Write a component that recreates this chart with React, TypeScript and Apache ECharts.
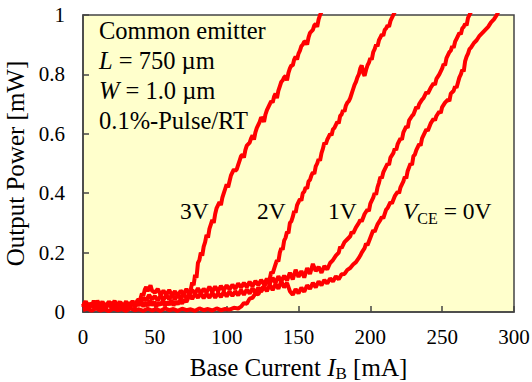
import React, { useEffect, useRef } from "react";
import * as echarts from "echarts";

const xTicks = [0, 50, 100, 150, 200, 250, 300];
const yTickLabels = ["0", "0.2", "0.4", "0.6", "0.8", "1"];

const curve3V: [number, number][] = [
  [0, 0.02], [1.5, 0.035], [3, 0.012], [4.5, 0.03], [6, 0.018], [7.5, 0.038], [9, 0.015], [10.5, 0.03], [12, 0.02], [13.5, 0.036],
  [15, 0.012], [16.5, 0.028], [18, 0.02], [19.5, 0.034], [21, 0.014], [22.5, 0.03], [24, 0.018], [25.5, 0.036], [27, 0.016], [28.5, 0.028],
  [30, 0.012], [31.5, 0.032], [33, 0.02], [34.5, 0.038], [36, 0.016], [37.5, 0.03], [39, 0.022], [40.5, 0.036], [42, 0.018], [43.5, 0.032],
  [45, 0.02], [46.5, 0.04], [48, 0.022], [49.5, 0.034], [51, 0.018], [52.5, 0.03], [54, 0.024], [55.5, 0.038], [57, 0.02], [58.5, 0.034],
  [60, 0.024], [61.5, 0.04], [63, 0.022], [64.5, 0.036], [66, 0.026], [67.5, 0.04], [69, 0.028], [70.5, 0.042], [72, 0.034], [73.5, 0.05],
  [75, 0.075], [76, 0.1], [77, 0.09], [78, 0.125], [79, 0.115], [80, 0.165], [81, 0.175], [82, 0.2], [83, 0.19], [84, 0.22],
  [85, 0.235], [86, 0.26], [87, 0.25], [88, 0.28], [89, 0.295], [90, 0.31], [91, 0.3], [92, 0.33], [93, 0.35], [94, 0.36],
  [95, 0.37], [96, 0.36], [97, 0.385], [98, 0.4], [99, 0.415], [100, 0.43], [101, 0.42], [102, 0.44], [103, 0.46], [104, 0.47],
  [105, 0.48], [106, 0.475], [107, 0.48], [108, 0.495], [109, 0.51], [110, 0.525], [111, 0.53], [112, 0.52], [113, 0.545], [114, 0.56],
  [115, 0.565], [116, 0.57], [117, 0.585], [118, 0.595], [119, 0.58], [120, 0.605], [121, 0.62], [122, 0.63], [123, 0.64], [124, 0.655],
  [125, 0.65], [126, 0.64], [127, 0.665], [128, 0.68], [129, 0.69], [130, 0.7], [131, 0.71], [132, 0.705], [133, 0.725], [134, 0.735],
  [135, 0.72], [136, 0.745], [137, 0.76], [138, 0.775], [139, 0.78], [140, 0.79], [141, 0.795], [142, 0.78], [143, 0.805], [144, 0.82],
  [145, 0.83], [146, 0.83], [147, 0.85], [148, 0.86], [149, 0.85], [150, 0.87], [151, 0.88], [152, 0.895], [153, 0.9], [154, 0.91],
  [155, 0.91], [156, 0.9], [157, 0.925], [158, 0.94], [159, 0.945], [160, 0.95], [161, 0.965], [162, 0.97], [163, 0.96], [164, 0.985],
  [165, 1.0], [166, 1.01],
];

const curve2V: [number, number][] = [
  [0, 0.006], [3, 0.011], [6, 0.004], [9, 0.012], [12, 0.005], [15, 0.009], [18, 0.003], [21, 0.011], [24, 0.006], [27, 0.01],
  [30, 0.004], [33, 0.012], [36, 0.006], [39, 0.009], [42, 0.004], [45, 0.011], [48, 0.005], [51, 0.01], [54, 0.004], [57, 0.012],
  [60, 0.006], [63, 0.01], [66, 0.004], [69, 0.011], [72, 0.006], [75, 0.009], [78, 0.004], [81, 0.012], [84, 0.006], [87, 0.01],
  [90, 0.005], [93, 0.012], [96, 0.006], [99, 0.01], [102, 0.008], [105, 0.014], [108, 0.012], [110, 0.018], [112, 0.03], [114, 0.028],
  [116, 0.045], [118, 0.048], [120, 0.062], [122, 0.06], [124, 0.078], [126, 0.086], [128, 0.1], [130, 0.112], [131, 0.135], [132, 0.13],
  [134, 0.16], [135, 0.175], [136, 0.17], [137, 0.2], [138, 0.215], [139, 0.21], [140, 0.24], [141, 0.25], [142, 0.27], [143, 0.265],
  [144, 0.3], [145, 0.305], [146, 0.32], [147, 0.34], [148, 0.335], [149, 0.36], [150, 0.37], [151, 0.38], [152, 0.375], [153, 0.4],
  [154, 0.405], [155, 0.42], [156, 0.415], [157, 0.44], [158, 0.445], [159, 0.46], [160, 0.47], [161, 0.465], [162, 0.49], [163, 0.5],
  [164, 0.515], [165, 0.51], [166, 0.535], [167, 0.55], [168, 0.57], [169, 0.565], [170, 0.58], [171, 0.59], [172, 0.6], [173, 0.595],
  [174, 0.615], [175, 0.62], [176, 0.63], [177, 0.64], [178, 0.635], [179, 0.66], [180, 0.665], [181, 0.68], [182, 0.675], [183, 0.695],
  [184, 0.705], [185, 0.71], [186, 0.72], [187, 0.735], [188, 0.75], [189, 0.765], [190, 0.775], [191, 0.79], [192, 0.8], [193, 0.82],
  [194, 0.83], [195, 0.805], [196, 0.795], [197, 0.815], [198, 0.83], [199, 0.84], [200, 0.855], [201, 0.85], [202, 0.875], [203, 0.885],
  [204, 0.9], [205, 0.895], [206, 0.915], [207, 0.925], [208, 0.935], [209, 0.93], [210, 0.95], [211, 0.955], [212, 0.965], [213, 0.96],
  [214, 0.98], [215, 0.99], [216, 1.0], [217, 1.01],
];

const curve1V: [number, number][] = [
  [0, 0.02], [2, 0.036], [4, 0.012], [6, 0.03], [8, 0.016], [10, 0.038], [12, 0.018], [14, 0.032], [16, 0.012], [18, 0.034],
  [20, 0.018], [22, 0.038], [24, 0.014], [26, 0.03], [28, 0.018], [30, 0.036], [32, 0.016], [34, 0.032], [36, 0.022], [38, 0.04],
  [40, 0.045], [41, 0.062], [42, 0.055], [43, 0.075], [44, 0.085], [45, 0.07], [46, 0.08], [47, 0.09], [48, 0.072], [50, 0.065],
  [52, 0.078], [54, 0.058], [56, 0.072], [58, 0.058], [60, 0.074], [62, 0.056], [64, 0.07], [66, 0.054], [68, 0.072], [70, 0.06],
  [72, 0.078], [74, 0.058], [76, 0.074], [78, 0.062], [80, 0.08], [82, 0.062], [84, 0.078], [86, 0.066], [88, 0.085], [90, 0.068],
  [92, 0.086], [94, 0.07], [96, 0.088], [98, 0.073], [100, 0.09], [102, 0.076], [104, 0.092], [106, 0.078], [108, 0.096], [110, 0.082],
  [112, 0.098], [114, 0.084], [116, 0.102], [118, 0.086], [120, 0.105], [122, 0.09], [124, 0.108], [126, 0.093], [128, 0.112], [130, 0.096],
  [132, 0.115], [134, 0.098], [136, 0.12], [138, 0.103], [140, 0.122], [142, 0.106], [144, 0.132], [146, 0.11], [148, 0.142], [150, 0.118],
  [152, 0.138], [154, 0.116], [156, 0.148], [158, 0.128], [160, 0.162], [162, 0.138], [164, 0.152], [166, 0.132], [168, 0.155], [170, 0.143],
  [172, 0.165], [174, 0.175], [176, 0.19], [178, 0.2], [179, 0.22], [180, 0.215], [182, 0.235], [184, 0.245], [186, 0.255], [187, 0.27],
  [188, 0.265], [190, 0.285], [192, 0.3], [193, 0.31], [194, 0.305], [196, 0.33], [198, 0.345], [199, 0.34], [200, 0.365], [202, 0.385],
  [203, 0.4], [204, 0.395], [205, 0.42], [206, 0.435], [207, 0.455], [208, 0.45], [209, 0.47], [210, 0.48], [212, 0.5], [213, 0.495],
  [214, 0.52], [216, 0.535], [217, 0.55], [218, 0.545], [219, 0.565], [221, 0.585], [222, 0.58], [223, 0.605], [225, 0.625], [226, 0.62],
  [227, 0.645], [229, 0.66], [230, 0.665], [232, 0.69], [233, 0.685], [234, 0.7], [236, 0.715], [237, 0.72], [239, 0.74], [240, 0.735],
  [242, 0.755], [244, 0.77], [245, 0.765], [246, 0.785], [248, 0.8], [249, 0.81], [250, 0.82], [251, 0.835], [252, 0.83], [253, 0.855],
  [255, 0.875], [256, 0.88], [257, 0.895], [258, 0.89], [259, 0.91], [260, 0.92], [261, 0.93], [262, 0.94], [263, 0.935], [264, 0.955],
  [265, 0.96], [266, 0.97], [267, 0.965], [268, 0.99], [269, 1.0], [270, 1.01],
];

const curve0V: [number, number][] = [
  [0, 0.015], [2, 0.032], [4, 0.01], [6, 0.028], [8, 0.014], [10, 0.034], [12, 0.012], [14, 0.03], [16, 0.016], [18, 0.036],
  [20, 0.01], [22, 0.028], [24, 0.014], [26, 0.034], [28, 0.016], [30, 0.03], [32, 0.012], [34, 0.034], [36, 0.018], [38, 0.036],
  [40, 0.03], [42, 0.048], [44, 0.038], [46, 0.058], [48, 0.042], [50, 0.054], [52, 0.038], [54, 0.056], [56, 0.04], [58, 0.058],
  [60, 0.042], [62, 0.06], [64, 0.042], [66, 0.058], [68, 0.044], [70, 0.062], [72, 0.046], [74, 0.06], [76, 0.044], [78, 0.062],
  [80, 0.048], [82, 0.064], [84, 0.046], [86, 0.062], [88, 0.048], [90, 0.066], [92, 0.048], [94, 0.064], [96, 0.05], [98, 0.068],
  [100, 0.052], [102, 0.07], [104, 0.054], [106, 0.07], [108, 0.056], [110, 0.074], [112, 0.058], [114, 0.076], [116, 0.062], [118, 0.08],
  [120, 0.064], [122, 0.082], [124, 0.068], [126, 0.086], [128, 0.07], [130, 0.092], [132, 0.074], [134, 0.094], [136, 0.078], [138, 0.104],
  [140, 0.083], [142, 0.098], [144, 0.07], [146, 0.058], [148, 0.077], [150, 0.063], [152, 0.082], [154, 0.068], [156, 0.09], [158, 0.078],
  [160, 0.098], [162, 0.083], [164, 0.103], [166, 0.09], [168, 0.108], [170, 0.096], [172, 0.113], [174, 0.103], [176, 0.12], [178, 0.11],
  [180, 0.127], [182, 0.128], [184, 0.142], [186, 0.148], [188, 0.16], [190, 0.168], [192, 0.182], [193, 0.19], [194, 0.2], [196, 0.215],
  [197, 0.23], [198, 0.225], [200, 0.25], [202, 0.275], [203, 0.27], [205, 0.295], [207, 0.31], [208, 0.32], [209, 0.315], [211, 0.345],
  [212, 0.35], [214, 0.37], [215, 0.365], [217, 0.39], [219, 0.405], [220, 0.4], [221, 0.42], [223, 0.44], [224, 0.455], [225, 0.45],
  [226, 0.475], [228, 0.5], [229, 0.495], [230, 0.525], [231, 0.53], [232, 0.545], [234, 0.565], [235, 0.56], [236, 0.585], [238, 0.605],
  [239, 0.615], [240, 0.61], [242, 0.635], [244, 0.65], [245, 0.645], [246, 0.66], [248, 0.675], [249, 0.67], [250, 0.69], [252, 0.705],
  [254, 0.715], [255, 0.71], [256, 0.735], [258, 0.745], [259, 0.76], [260, 0.755], [262, 0.79], [263, 0.8], [264, 0.815], [265, 0.81],
  [266, 0.845], [267, 0.86], [268, 0.87], [269, 0.885], [270, 0.89], [272, 0.905], [274, 0.915], [276, 0.93], [278, 0.94], [280, 0.95],
  [282, 0.96], [284, 0.975], [286, 0.985], [288, 1.0], [289, 1.01],
];

const seriesNames = ["3V", "2V", "1V", "0V"];
const infoLines = ["Common emitter", "{i|L} = 750 µm", "{i|W} = 1.0 µm", "0.1%-Pulse/RT"];
const curveLabels = ["3V", "2V", "1V", "{i|V}{s|CE} = 0V"];

const FONT = "Liberation Serif";

export default function App() {
  const ref = useRef<HTMLDivElement>(null);

  useEffect(() => {
    document.body.style.margin = "0";
    if (!ref.current) return;
    const chart = echarts.init(ref.current, undefined, { renderer: "svg" });
    const curves = [curve3V, curve2V, curve1V, curve0V];
    const makeStyle = (size: number) => ({
      fontFamily: FONT,
      fontSize: size,
      color: "#000",
      fontWeight: "normal",
      lineHeight: 30,
      rich: {
        i: { fontFamily: FONT, fontSize: size, fontStyle: "italic", color: "#000", lineHeight: 30 },
        s: { fontFamily: FONT, fontSize: 16, color: "#000", lineHeight: 15, verticalAlign: "bottom" },
      },
    });
    const infoStyle = makeStyle(24.5);
    const labelStyle = makeStyle(23.5);
    const labelPos = [
      [180, 196],
      [257, 196],
      [328, 196],
      [403, 196],
    ];

    chart.setOption({
      animation: false,
      backgroundColor: "#fff",
      textStyle: { fontFamily: FONT },
      title: [
        ...infoLines.map((t, k) => ({
          text: t,
          left: 99,
          top: 15 + k * 30,
          padding: 0,
          textStyle: infoStyle,
        })),
        ...curveLabels.map((t, k) => ({
          text: t,
          left: labelPos[k][0],
          top: labelPos[k][1],
          padding: 0,
          textStyle: labelStyle,
        })),
      ],
      grid: {
        left: 83,
        right: 18,
        top: 15,
        bottom: 70,
        outerBoundsMode: "none",
        containLabel: false,
        show: true,
        backgroundColor: "#ffffcc",
        borderColor: "#444",
        borderWidth: 1.5,
      },
      xAxis: {
        type: "value",
        min: xTicks[0],
        max: xTicks[xTicks.length - 1],
        interval: 50,
        name: "{a|Base Current }{i|I}{s|B}{a| [mA]}",
        nameLocation: "middle",
        nameGap: 40,
        nameTextStyle: {
          fontFamily: FONT,
          fontSize: 25,
          color: "#000",
          rich: {
            a: { fontFamily: FONT, fontSize: 25, color: "#000", lineHeight: 30 },
            i: { fontFamily: FONT, fontSize: 25, fontStyle: "italic", color: "#000", lineHeight: 30 },
            s: { fontFamily: FONT, fontSize: 17, color: "#000", lineHeight: 16, verticalAlign: "bottom" },
          },
        },
        axisLine: { lineStyle: { color: "#444", width: 1.5 } },
        axisTick: { inside: true, length: 6, lineStyle: { color: "#444", width: 1.5 } },
        axisLabel: { fontFamily: FONT, fontSize: 21, color: "#000", margin: 14 },
        splitLine: { show: false },
      },
      yAxis: {
        type: "value",
        min: 0,
        max: 1,
        interval: 0.2,
        name: "Output Power [mW]",
        nameLocation: "middle",
        nameGap: 51,
        nameTextStyle: { fontFamily: FONT, fontSize: 25, color: "#000" },
        axisLine: { lineStyle: { color: "#444", width: 1.5 } },
        axisTick: { inside: true, length: 6, lineStyle: { color: "#444", width: 1.5 } },
        axisLabel: {
          fontFamily: FONT,
          fontSize: 21,
          color: "#000",
          margin: 18,
          formatter: (v: number) => yTickLabels[Math.round(v / 0.2)] ?? String(v),
        },
        splitLine: { show: false },
      },
      series: curves.map((d, k) => ({
        name: seriesNames[k],
        type: "line",
        data: d,
        showSymbol: false,
        symbol: "none",
        clip: true,
        lineStyle: { color: "#ff0000", width: 4 },
        z: 2,
      })),
    });
    return () => chart.dispose();
  }, []);

  return <div ref={ref} style={{ width: 532, height: 382 }} />;
}
